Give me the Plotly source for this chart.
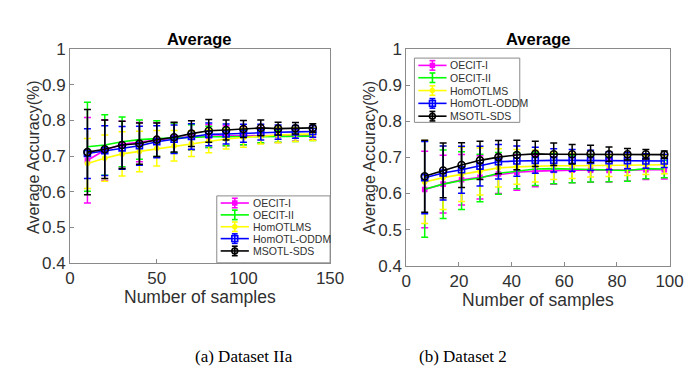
import plotly.graph_objects as go

# ---- data: (a) Dataset IIa ----
x_a = [10, 20, 30, 40, 50, 60, 70, 80, 90, 100, 110, 120, 130, 140]
oecit1_a = [0.688, 0.716, 0.733, 0.739, 0.746, 0.751, 0.754, 0.756, 0.757, 0.757, 0.758, 0.758, 0.758, 0.758]
oecit1_a_err = [0.12, 0.085, 0.065, 0.055, 0.048, 0.042, 0.037, 0.032, 0.028, 0.025, 0.022, 0.02, 0.016, 0.012]
oecit2_a = [0.726, 0.731, 0.740, 0.746, 0.749, 0.751, 0.753, 0.754, 0.754, 0.754, 0.755, 0.755, 0.755, 0.756]
oecit2_a_err = [0.125, 0.085, 0.07, 0.055, 0.05, 0.042, 0.035, 0.03, 0.025, 0.022, 0.018, 0.016, 0.014, 0.012]
homotlms_a = [0.679, 0.694, 0.706, 0.713, 0.722, 0.729, 0.735, 0.742, 0.748, 0.752, 0.756, 0.759, 0.761, 0.762]
homotlms_a_err = [0.07, 0.065, 0.062, 0.057, 0.05, 0.043, 0.036, 0.033, 0.028, 0.027, 0.022, 0.022, 0.02, 0.018]
oddm_a = [0.707, 0.715, 0.723, 0.729, 0.740, 0.747, 0.755, 0.761, 0.762, 0.764, 0.767, 0.767, 0.768, 0.769]
oddm_a_err = [0.07, 0.07, 0.06, 0.055, 0.045, 0.04, 0.036, 0.032, 0.028, 0.025, 0.022, 0.02, 0.018, 0.016]
sds_a = [0.711, 0.719, 0.731, 0.735, 0.746, 0.753, 0.763, 0.771, 0.773, 0.776, 0.779, 0.777, 0.778, 0.779]
sds_a_err = [0.12, 0.082, 0.067, 0.058, 0.047, 0.042, 0.036, 0.032, 0.028, 0.024, 0.022, 0.018, 0.016, 0.012]

# ---- data: (b) Dataset 2 ----
x_b = [7, 14, 21, 28, 35, 42, 49, 56, 63, 70, 77, 84, 91, 98]
oecit1_b = [0.611, 0.626, 0.638, 0.645, 0.654, 0.659, 0.662, 0.664, 0.665, 0.665, 0.664, 0.665, 0.666, 0.666]
oecit1_b_err = [0.106, 0.08, 0.07, 0.06, 0.054, 0.05, 0.043, 0.038, 0.035, 0.034, 0.032, 0.03, 0.027, 0.026]
oecit2_b = [0.612, 0.626, 0.636, 0.643, 0.656, 0.663, 0.668, 0.669, 0.668, 0.668, 0.667, 0.664, 0.669, 0.668]
oecit2_b_err = [0.133, 0.095, 0.08, 0.066, 0.058, 0.05, 0.046, 0.042, 0.038, 0.036, 0.034, 0.03, 0.028, 0.024]
homotlms_b = [0.632, 0.644, 0.653, 0.661, 0.671, 0.674, 0.676, 0.677, 0.677, 0.677, 0.677, 0.678, 0.679, 0.680]
homotlms_b_err = [0.115, 0.088, 0.075, 0.065, 0.053, 0.048, 0.044, 0.038, 0.035, 0.031, 0.03, 0.028, 0.026, 0.025]
oddm_b = [0.644, 0.657, 0.666, 0.676, 0.688, 0.690, 0.692, 0.692, 0.692, 0.692, 0.691, 0.691, 0.690, 0.690]
oddm_b_err = [0.1, 0.075, 0.065, 0.055, 0.048, 0.042, 0.036, 0.032, 0.03, 0.028, 0.025, 0.022, 0.02, 0.018]
sds_b = [0.648, 0.664, 0.679, 0.692, 0.701, 0.707, 0.710, 0.709, 0.709, 0.710, 0.709, 0.709, 0.709, 0.708]
sds_b_err = [0.1, 0.076, 0.062, 0.053, 0.046, 0.041, 0.035, 0.031, 0.027, 0.024, 0.02, 0.016, 0.013, 0.01]

names = ['OECIT-I', 'OECIT-II', 'HomOTLMS', 'HomOTL-ODDM', 'MSOTL-SDS']
colors = ['#ff00ff', '#00ff00', '#ffff00', '#0000ff', '#000000']
symbols = ['square', 'line-ew', 'circle', 'square-open', 'circle-open']
msizes = [4, 1, 4, 6, 7]

y_ticks = [0.4, 0.5, 0.6, 0.7, 0.8, 0.9, 1.0]
y_ticktext = ['0.4', '0.5', '0.6', '0.7', '0.8', '0.9', '1']

FONT = 'Arial, Liberation Sans, sans-serif'
SERIF = 'Times New Roman, Liberation Serif, serif'
W, H = 696, 373
BOX = '#8a8a8a'
TXT = '#303030'

fig = go.Figure()

panels = [
    (x_a, [(oecit1_a, oecit1_a_err), (oecit2_a, oecit2_a_err), (homotlms_a, homotlms_a_err),
           (oddm_a, oddm_a_err), (sds_a, sds_a_err)], 'x', 'y'),
    (x_b, [(oecit1_b, oecit1_b_err), (oecit2_b, oecit2_b_err), (homotlms_b, homotlms_b_err),
           (oddm_b, oddm_b_err), (sds_b, sds_b_err)], 'x2', 'y2'),
]

for xs, series, xa, ya in panels:
    for (ys, err), name, c, sym, ms in zip(series, names, colors, symbols, msizes):
        fig.add_trace(go.Scatter(
            x=xs, y=ys, name=name, mode='lines+markers', showlegend=False,
            line=dict(color=c, width=1.6),
            marker=dict(symbol=sym, size=ms, color=c, line=dict(color=c, width=1.6)),
            error_y=dict(type='data', array=err, visible=True, color=c, thickness=1.5, width=3.5),
            xaxis=xa, yaxis=ya,
        ))


def px_x(v):
    return v / W


def px_y(v):
    return 1 - v / H


axis_style = dict(showline=True, mirror=True, linecolor=BOX, linewidth=1,
                  ticks='inside', ticklen=4, tickcolor=BOX, showgrid=False, zeroline=False,
                  tickfont=dict(family=FONT, size=17, color=TXT))

fig.update_layout(
    width=W, height=H,
    margin=dict(l=0, r=0, t=0, b=0),
    paper_bgcolor='white', plot_bgcolor='white',
    showlegend=False,
    xaxis=dict(domain=[px_x(58.7), px_x(326)], range=[0, 150], tickvals=[0, 50, 100, 150], anchor='y', **axis_style),
    yaxis=dict(domain=[px_y(259), px_y(34)], range=[0.4, 1], tickvals=y_ticks, ticktext=y_ticktext, anchor='x', **axis_style),
    xaxis2=dict(domain=[px_x(404.3), px_x(675)], range=[0, 100], tickvals=[0, 20, 40, 60, 80, 100], anchor='y2', **axis_style),
    yaxis2=dict(domain=[px_y(262), px_y(34)], range=[0.4, 1], tickvals=y_ticks, ticktext=y_ticktext, anchor='x2', **axis_style),
)


# MATLAB-style compact legend box (plotly's own legend rows are too tall here)
def add_legend(left, top, right, bottom, rows):
    shapes = [dict(type='rect', xref='paper', yref='paper', x0=px_x(left), x1=px_x(right),
                   y0=px_y(bottom), y1=px_y(top), line=dict(color=BOX, width=1), fillcolor='white')]
    lx0, lx1 = left + 4, left + 33
    cx = (lx0 + lx1) / 2
    for ry, name, c, sym in zip(rows, names, colors, symbols):
        seg = dict(xref='paper', yref='paper', line=dict(color=c, width=1.6))
        shapes.append(dict(type='line', x0=px_x(lx0), x1=px_x(lx1), y0=px_y(ry), y1=px_y(ry), **seg))
        shapes.append(dict(type='line', x0=px_x(cx), x1=px_x(cx), y0=px_y(ry - 5), y1=px_y(ry + 5), **seg))
        for cy in (ry - 5, ry + 5):
            shapes.append(dict(type='line', x0=px_x(cx - 3), x1=px_x(cx + 3), y0=px_y(cy), y1=px_y(cy), **seg))
        if sym == 'square':
            shapes.append(dict(type='rect', x0=px_x(cx - 2), x1=px_x(cx + 2), y0=px_y(ry + 2), y1=px_y(ry - 2),
                               fillcolor=c, **seg))
        elif sym == 'circle':
            shapes.append(dict(type='circle', x0=px_x(cx - 2), x1=px_x(cx + 2), y0=px_y(ry + 2), y1=px_y(ry - 2),
                               fillcolor=c, **seg))
        elif sym == 'square-open':
            shapes.append(dict(type='rect', x0=px_x(cx - 3), x1=px_x(cx + 3), y0=px_y(ry + 3), y1=px_y(ry - 3), **seg))
        elif sym == 'circle-open':
            shapes.append(dict(type='circle', x0=px_x(cx - 3), x1=px_x(cx + 3), y0=px_y(ry + 3), y1=px_y(ry - 3), **seg))
        fig.add_annotation(text=name, x=px_x(lx1 + 2), y=px_y(ry), xref='paper', yref='paper',
                           showarrow=False, xanchor='left', yanchor='middle',
                           font=dict(family=FONT, size=10.5, color=TXT))
    for s in shapes:
        fig.add_shape(**s)


add_legend(209.5, 188.5, 326, 259, [196, 208.5, 221, 233.5, 246.5])
add_legend(412.7, 43.3, 521, 111, [51, 64, 77.5, 91, 104.5])

# titles, axis labels and captions
texts = [
    ('<b>Average</b>', 192, 23, 16.5, 0, FONT, '#000000'),
    ('<b>Average</b>', 540, 23, 16.5, 0, FONT, '#000000'),
    ('Number of samples', 192, 295, 17.5, 0, FONT, TXT),
    ('Number of samples', 540, 298, 17.5, 0, FONT, TXT),
    ('Average Accuracy(%)', 21, 147, 16, -90, FONT, TXT),
    ('Average Accuracy(%)', 366, 148, 16, -90, FONT, TXT),
    ('(a) Dataset IIa', 237, 358, 17, 0, SERIF, '#000000'),
    ('(b) Dataset 2', 463, 358, 17, 0, SERIF, '#000000'),
]
for t, x, y, size, ang, fam, col in texts:
    fig.add_annotation(text=t, x=px_x(x), y=px_y(y), xref='paper', yref='paper',
                       showarrow=False, textangle=ang, xanchor='center', yanchor='middle',
                       font=dict(family=fam, size=size, color=col))

fig.write_html("out.html")
